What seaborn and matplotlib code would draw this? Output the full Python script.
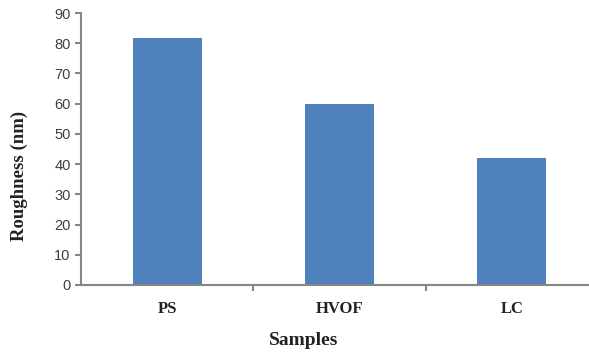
import matplotlib
matplotlib.use("Agg")
import matplotlib.pyplot as plt
import seaborn as sns
import pandas as pd

categories = ["PS", "HVOF", "LC"]
roughness = [81.7, 60.0, 42.0]
yticks = [0, 10, 20, 30, 40, 50, 60, 70, 80, 90]

df = pd.DataFrame({"Samples": categories, "Roughness": roughness})

sns.set_style("white")
fig = plt.figure(figsize=(5.89, 3.53), dpi=100)
ax = fig.add_axes([81/589, 68/353, 517/589, 272/353])

sns.barplot(data=df, x="Samples", y="Roughness", ax=ax, color="#4F81BD",
            width=0.4, saturation=1, edgecolor="none")

ax.set_xlim(-0.5, 2.5)
ax.set_ylim(0, 90)
ax.set_yticks(yticks)
ax.set_yticklabels([str(t) for t in yticks], fontsize=10.5, color="#404040",
                   family="Liberation Sans")
ax.set_xticks(range(len(categories)))
ax.set_xticklabels(categories, fontsize=12, fontweight="bold",
                   family="Liberation Serif", color="#222222")
ax.set_xticks([0.5, 1.5], minor=True)
ax.tick_params(axis="x", which="major", bottom=False, length=0, pad=11.5)
ax.tick_params(axis="x", which="minor", bottom=True, length=4, color="#868686",
               width=1.5, direction="out")
ax.tick_params(axis="y", left=True, length=4, color="#868686", width=1.5,
               direction="out", pad=3.5)

for s in ["top", "right"]:
    ax.spines[s].set_visible(False)
for s in ["left", "bottom"]:
    ax.spines[s].set_color("#868686")
    ax.spines[s].set_linewidth(1.5)

ax.set_xlabel("Samples", fontsize=14, fontweight="bold",
              family="Liberation Serif", color="#222222")
ax.xaxis.set_label_coords((304 - 81) / 517, -47 / 272)
ax.set_ylabel("Roughness (nm)", fontsize=13.5, fontweight="bold",
              family="Liberation Serif", color="#222222")
ax.yaxis.set_label_coords(-53 / 517, (285 - 176) / 272)

fig.savefig("out.png", dpi=100)
